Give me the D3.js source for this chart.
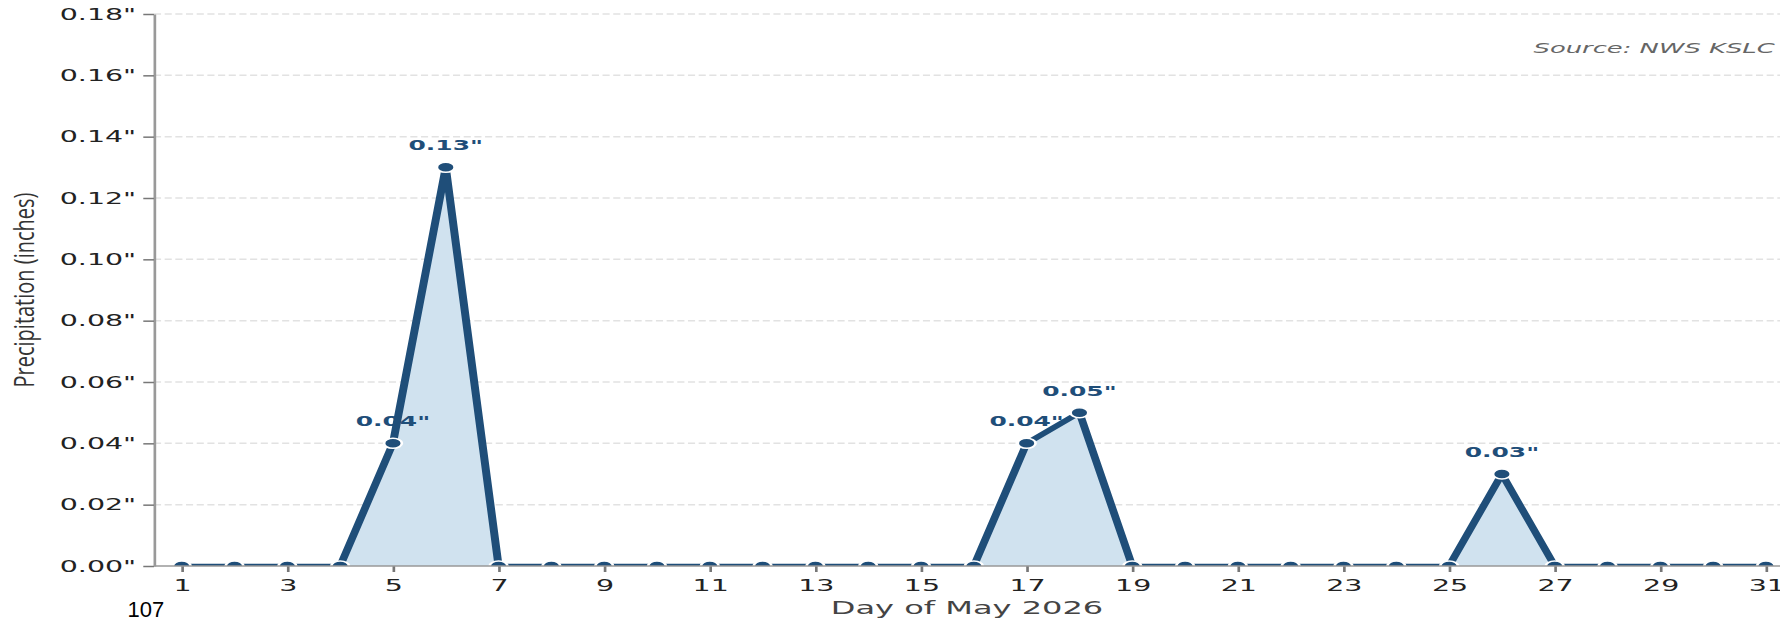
<!DOCTYPE html>
<html>
<head>
<meta charset="utf-8">
<script src="https://cdn.jsdelivr.net/npm/d3@7"></script>
<style>
html, body { margin: 0; padding: 0; background: #fff; overflow: hidden; }
svg { position: absolute; left: 0; top: 0; }
</style>
</head>
<body>
<script>
// ---- data ----
const days = [1,2,3,4,5,6,7,8,9,10,11,12,13,14,15,16,17,18,19,20,21,22,23,24,25,26,27,28,29,30,31];
const precip = [0,0,0,0,0.04,0.13,0,0,0,0,0,0,0,0,0,0,0.04,0.05,0,0,0,0,0,0,0,0.03,0,0,0,0,0];
const yTicks = [0,0.02,0.04,0.06,0.08,0.10,0.12,0.14,0.16,0.18];
const xTicks = [1,3,5,7,9,11,13,15,17,19,21,23,25,27,29,31];
const xTitle = "Day of May 2026";
const yTitle = "Precipitation (inches)";
const sourceText = "Source: NWS KSLC";
const strayText = "107";

(function () {
// ---- layout (chart drawn in a 1000-wide viewBox stretched to 1780) ----
const W = 1780, H = 619, VBW = 1000;
const mLeft = 86.5, mRight = 1000, mTop = 14, mBottom = 566;
const lineColor = "#1f4e79", fillColor = "#d0e2ef";

const data = days.map((d, i) => ({day: d, v: precip[i]}));

const svg = d3.select("body").append("svg")
  .attr("width", W).attr("height", H)
  .attr("viewBox", `0 0 ${VBW} ${H}`)
  .attr("preserveAspectRatio", "none");

const x = d3.scaleLinear().domain([1, 31]).range([102.1, 992.1]);
const y = d3.scaleLinear().domain([0, 0.18]).range([mBottom, mTop]);

// grid
svg.append("g").selectAll("line").data(yTicks.filter(t => t > 0)).join("line")
  .attr("x1", mLeft).attr("x2", mRight)
  .attr("y1", d => y(d)).attr("y2", d => y(d))
  .attr("stroke", "#e2e2e2").attr("stroke-width", 1.5)
  .attr("stroke-dasharray", "4,2");

// clip
svg.append("clipPath").attr("id", "plotclip").append("rect")
  .attr("x", mLeft).attr("y", 0).attr("width", mRight - mLeft).attr("height", mBottom);

const plot = svg.append("g").attr("clip-path", "url(#plotclip)");

plot.append("path").datum(data)
  .attr("fill", fillColor)
  .attr("d", d3.area().x(d => x(d.day)).y0(y(0)).y1(d => y(d.v)));

// value labels
svg.append("g").selectAll("text").data(data.filter(d => d.v > 0)).join("text")
  .attr("x", d => x(d.day)).attr("y", d => y(d.v) - 17)
  .attr("text-anchor", "middle")
  .attr("font-family", "DejaVu Sans").attr("font-weight", "bold").attr("font-size", 14)
  .attr("fill", lineColor)
  .text(d => d.v.toFixed(2) + '"');

const plot2 = svg.append("g").attr("clip-path", "url(#plotclip)");
plot2.append("path").datum(data)
  .attr("fill", "none").attr("stroke", lineColor).attr("stroke-width", 4.5)
  .attr("stroke-linejoin", "round")
  .attr("d", d3.line().x(d => x(d.day)).y(d => y(d.v)));

plot2.append("g").selectAll("circle").data(data).join("circle")
  .attr("cx", d => x(d.day)).attr("cy", d => y(d.v)).attr("r", 5)
  .attr("fill", lineColor).attr("stroke", "#fff").attr("stroke-width", 1.5);

// x axis
const xAxis = svg.append("g").attr("transform", `translate(0,${mBottom})`)
  .call(d3.axisBottom(x).tickValues(xTicks).tickFormat(d3.format("d"))
    .tickSize(6).tickPadding(8).tickSizeOuter(0));
xAxis.select(".domain").remove();
xAxis.append("line").attr("x1", mLeft).attr("x2", mRight).attr("y1", 0).attr("y2", 0)
  .attr("stroke", "#999").attr("stroke-width", 1.5);

// y axis
const yAxis = svg.append("g").attr("transform", `translate(${mLeft},0)`)
  .call(d3.axisLeft(y).tickValues(yTicks).tickFormat(d => d.toFixed(2) + '"')
    .tickSize(6).tickPadding(4).tickSizeOuter(0));

[xAxis, yAxis].forEach(a => {
  a.selectAll(".domain").attr("stroke", "#999").attr("stroke-width", 1.5);
  a.selectAll(".tick line").attr("stroke", "#777").attr("stroke-width", 1.5);
  a.selectAll(".tick text").attr("font-family", "DejaVu Sans").attr("font-size", 16).attr("fill", "#222");
});

// source
svg.append("text").attr("x", 997).attr("y", 53).attr("text-anchor", "end")
  .attr("font-family", "DejaVu Sans").attr("font-style", "italic").attr("font-size", 14.5)
  .attr("fill", "#666").text(sourceText);

// x title
svg.append("text").attr("x", (mLeft + mRight) / 2).attr("y", 614).attr("text-anchor", "middle")
  .attr("font-family", "DejaVu Sans").attr("font-size", 18).attr("fill", "#444").text(xTitle);

// ---- unstretched overlay ----
const ov = d3.select("body").append("svg").attr("width", W).attr("height", H);
ov.append("text")
  .attr("transform", "translate(34,290) rotate(-90) scale(1,1.35)")
  .attr("text-anchor", "middle")
  .attr("font-family", "Open Sans").attr("font-size", 20).attr("fill", "#333")
  .text(yTitle);
ov.append("text").attr("x", 127.6).attr("y", 617.3)
  .attr("font-family", "Liberation Sans, Arial").attr("font-size", 22).attr("fill", "#000")
  .text(strayText);
})();
</script>
</body>
</html>
